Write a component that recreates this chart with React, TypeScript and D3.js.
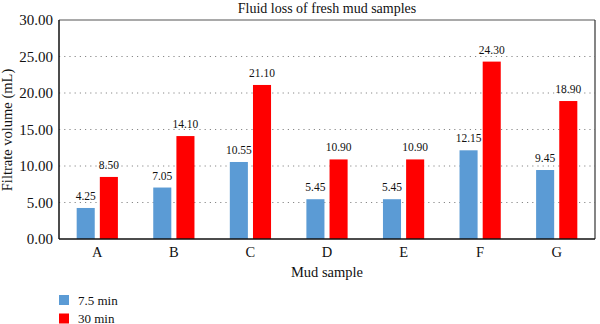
import React from "react";
import * as d3 from "d3";

const categories = ["A", "B", "C", "D", "E", "F", "G"];
const series = ["7.5 min", "30 min"];
const values75 = [4.25, 7.05, 10.55, 5.45, 5.45, 12.15, 9.45];
const values30 = [8.5, 14.1, 21.1, 10.9, 10.9, 24.3, 18.9];
const yTicks = [0, 5, 10, 15, 20, 25, 30];
const colors = ["#5b9bd5", "#ff0000"];

const W = 600, H = 324;
const left = 59, right = 595, top = 20, bottom = 239;
const font = "'Liberation Serif', 'Times New Roman', serif";

export default function App() {
  const x = d3.scaleBand().domain(categories).range([left, right]).paddingInner(0).paddingOuter(0);
  const y = d3.scaleLinear().domain([0, 30]).range([bottom, top]);
  const sub = d3.scaleBand().domain(series).range([-22, 22]).paddingInner(0.22).paddingOuter(0.06);
  const data = [values75, values30];
  return (
    <svg width={W} height={H} style={{ position: "absolute", left: 0, top: 0, background: "#fff" }} fontFamily={font}>
      <text x={(left + right) / 2} y={13} textAnchor="middle" fontSize={14} fill="#111">Fluid loss of fresh mud samples</text>
      {yTicks.filter(t => t > 0 && t < 30).map(t => (
        <line key={"g" + t} x1={left} x2={right} y1={y(t)} y2={y(t)} stroke="#888" strokeWidth={1} strokeDasharray="1.2,4" />
      ))}
      <line x1={left} x2={right} y1={top} y2={top} stroke="#555" strokeWidth={1.2} />
      <line x1={right} x2={right} y1={top} y2={bottom} stroke="#333" strokeWidth={1.2} />
      {yTicks.map(t => (
        <text key={"t" + t} x={53} y={y(t) + 5} textAnchor="end" fontSize={15} fill="#111">{t.toFixed(2)}</text>
      ))}
      {categories.map((c, i) => (
        <g key={c}>
          {data.map((vals, s) => {
            const cx = x(c)! + x.bandwidth() / 2 + sub(series[s])!;
            const bw = sub.bandwidth();
            return (
              <g key={s}>
                <rect x={cx} y={y(vals[i])} width={bw} height={bottom - y(vals[i])} fill={colors[s]} />
                <text x={cx + bw / 2} y={y(vals[i]) - 8} textAnchor="middle" fontSize={11.5} fill="#111">{vals[i].toFixed(2)}</text>
              </g>
            );
          })}
          <text x={x(c)! + x.bandwidth() / 2} y={257} textAnchor="middle" fontSize={14.5} fill="#111">{c}</text>
        </g>
      ))}
      <line x1={left} x2={left} y1={top} y2={bottom} stroke="#111" strokeWidth={1.5} />
      <line x1={left} x2={right} y1={bottom} y2={bottom} stroke="#111" strokeWidth={1.5} />
      <text x={(left + right) / 2} y={277} textAnchor="middle" fontSize={14.5} fill="#111">Mud sample</text>
      <text transform={`translate(12,130) rotate(-90)`} textAnchor="middle" fontSize={14.5} fill="#111">Filtrate volume (mL)</text>
      {series.map((s, i) => (
        <g key={s}>
          <rect x={59} y={295 + i * 18.5} width={10} height={10} fill={colors[i]} />
          <text x={78} y={304.5 + i * 18} fontSize={13} fill="#111">{s}</text>
        </g>
      ))}
    </svg>
  );
}
